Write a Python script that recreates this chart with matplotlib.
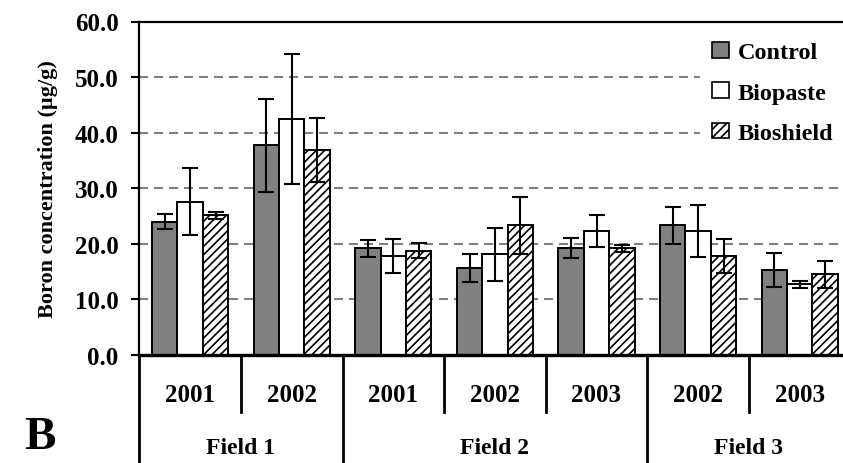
import matplotlib
matplotlib.use("Agg")
import matplotlib.pyplot as plt
import numpy as np
from matplotlib.patches import Patch
from matplotlib.lines import Line2D

plt.rcParams['font.family'] = ['Liberation Serif', 'DejaVu Serif']
plt.rcParams['font.weight'] = 'bold'
plt.rcParams['hatch.linewidth'] = 1.2
plt.rcParams['lines.scale_dashes'] = False

years = ["2001", "2002", "2001", "2002", "2003", "2002", "2003"]
fields = ["Field 1", "Field 2", "Field 3"]
field_sizes = [2, 3, 2]
series = ["Control", "Biopaste", "Bioshield"]

control = [24.0, 37.7, 19.2, 15.6, 19.2, 23.3, 15.3]
control_err = [1.3, 8.3, 1.5, 2.5, 1.8, 3.3, 3.0]
biopaste = [27.6, 42.4, 17.8, 18.1, 22.3, 22.3, 12.7]
biopaste_err = [6.0, 11.7, 3.0, 4.8, 2.9, 4.7, 0.6]
bioshield = [25.1, 36.9, 18.8, 23.3, 19.2, 17.8, 14.5]
bioshield_err = [0.6, 5.8, 1.3, 5.1, 0.6, 3.0, 2.4]

values = [control, biopaste, bioshield]
errors = [control_err, biopaste_err, bioshield_err]
faces = ["#808080", "white", "white"]
hatches = [None, None, "////"]

fig = plt.figure(figsize=(8.43, 4.64), dpi=100)
W, H = 843, 464
x0, x1 = 139.3, 850.5
y0, y1 = 356.0, 22.5
ax = fig.add_axes([x0 / W, 1 - y0 / H, (x1 - x0) / W, (y0 - y1) / H])

n = len(years)
centers = np.arange(n) + 0.5
bw = 0.25
for k in range(3):
    pos = centers + (k - 1) * bw
    ax.bar(pos, values[k], width=bw, color=faces[k], edgecolor="black",
           linewidth=1.4, hatch=hatches[k], zorder=3)
    ax.errorbar(pos, values[k], yerr=errors[k], fmt="none", ecolor="black",
                elinewidth=1.5, capsize=5.5, capthick=1.5, zorder=4)

ax.set_xlim(0, n)
ax.set_ylim(0, 60)
ax.set_yticks(np.arange(0, 61, 10))
ax.set_yticklabels([f"{v:.1f}" for v in np.arange(0, 61, 10)], fontsize=18, fontweight="bold")
ax.tick_params(axis="y", direction="out", length=6, width=1.5, pad=9)
ax.set_xticks([])
for v in range(10, 60, 10):
    ax.axhline(v, color="#808080", linewidth=1.5, linestyle=(0, (6.5, 4.3)), zorder=1)

ax.spines["top"].set_linewidth(1.6)
ax.spines["left"].set_linewidth(1.6)
ax.spines["bottom"].set_linewidth(2.4)
ax.spines["right"].set_visible(False)
ax.spines["bottom"].set_zorder(5)

ax.set_ylabel("Boron concentration (\u00b5g/g)", fontsize=16, fontweight="bold", labelpad=12)

tr = ax.get_xaxis_transform()
year_y = -(396 - y0) / (y0 - y1)
field_y = -(449 - y0) / (y0 - y1)
ydiv_end = -(413 - y0) / (y0 - y1)
fdiv_end = -(470 - y0) / (y0 - y1)

for i, yr in enumerate(years):
    ax.text(centers[i], year_y, yr, transform=tr, ha="center", va="center",
            fontsize=18, fontweight="bold")

start = 0
bounds = [0]
for fs in field_sizes:
    start += fs
    bounds.append(start)
for j, f in enumerate(fields):
    ax.text((bounds[j] + bounds[j + 1]) / 2, field_y, f, transform=tr, ha="center",
            va="center", fontsize=17, fontweight="bold")

for b in range(0, n + 1):
    end = fdiv_end if b in bounds else ydiv_end
    ax.add_line(Line2D([b, b], [0, end], transform=tr, color="black", linewidth=2.0,
                       clip_on=False))

fig.text(40 / W, 1 - 438 / H, "B", fontsize=34, fontweight="bold", ha="center", va="center")

handles = [Patch(facecolor=faces[k], edgecolor="black", linewidth=1.2, hatch=hatches[k])
           for k in range(3)]
leg = ax.legend(handles, series, loc="upper left", bbox_to_anchor=(700 / W, 1 - 31 / H),
                bbox_transform=fig.transFigure, frameon=True, fancybox=False,
                borderpad=0.5, borderaxespad=0, labelspacing=0.78, handlelength=0.7,
                handleheight=0.6, handletextpad=0.35,
                prop={"size": 17.5, "weight": "bold"})
leg.get_frame().set_facecolor("white")
leg.get_frame().set_edgecolor("none")
leg.get_frame().set_alpha(1)
leg.set_zorder(6)

fig.savefig("out.png", dpi=100)
